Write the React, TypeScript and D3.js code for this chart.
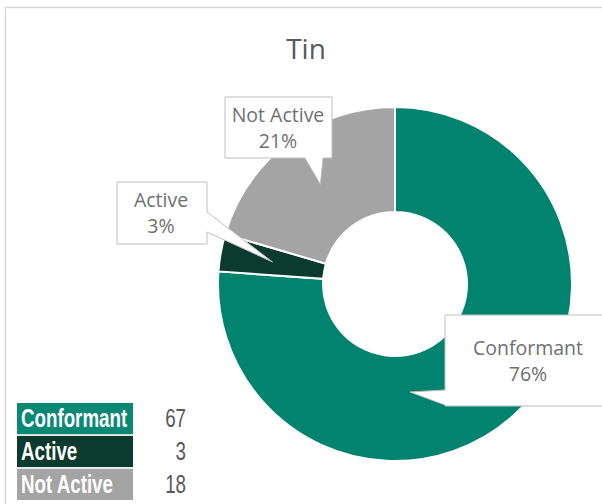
import React from 'react';
import * as d3 from 'd3';

// chart data
const title = 'Tin';
const categories = ['Conformant', 'Active', 'Not Active'];
const counts = [67, 3, 18];
const percentLabels = ['76%', '3%', '21%'];
const sliceColors = ['#02836f', '#0b3a2f', '#a4a4a4'];
const legendColors = ['#0a8873', '#0b3a2f', '#a4a4a4'];

const W = 602;
const H = 504;
const cx = 395;
const cy = 284;
const outerR = 177;
const innerR = 72;

// callout boxes: rect + which side the pointer comes out of
// tip null -> pointer goes to the slice centroid
const callouts = [
  { box: [445, 315, 162, 91], side: 'left', base: [390, 405], tip: [410, 392], tx: 528 },
  { box: [117, 182, 90, 62], side: 'right', base: [212, 232], tip: null, tx: 161 },
  { box: [225, 97, 107, 61], side: 'bottom', base: [305, 323], tip: null, tx: 278 },
];

function calloutPath(c, tip) {
  const [x, y, w, h] = c.box;
  const [b1, b2] = c.base;
  const [tx, ty] = tip;
  let pts;
  if (c.side === 'bottom') {
    pts = [[x, y], [x + w, y], [x + w, y + h], [b2, y + h], [tx, ty], [b1, y + h], [x, y + h]];
  } else if (c.side === 'right') {
    pts = [[x, y], [x + w, y], [x + w, b1], [tx, ty], [x + w, b2], [x + w, y + h], [x, y + h]];
  } else {
    pts = [[x, y], [x + w, y], [x + w, y + h], [x, y + h], [x, b2], [tx, ty], [x, b1]];
  }
  return 'M' + pts.map(p => p.join(',')).join('L') + 'Z';
}

const App = () => {
  const pie = d3.pie<number>().sort(null).value(d => d);
  const arcs = pie(counts);
  const arc = d3.arc<d3.PieArcDatum<number>>().innerRadius(innerR).outerRadius(outerR);

  const fontLabel = '"Open Sans", "Noto Sans", sans-serif';
  const fontLegend = '"Liberation Sans", Arial, sans-serif';
  const narrow = 0.75;

  const legendY = d3.scaleBand().domain(categories).range([403, 500]).paddingInner(0.05);

  return (
    <svg width={W} height={H} style={{ position: 'absolute', left: 0, top: 0, background: '#fff' }}>
      {/* chart frame */}
      <line x1={5} y1={7.5} x2={W} y2={7.5} stroke="#d9d9d9" strokeWidth={1.5} />
      <line x1={5.5} y1={7} x2={5.5} y2={H} stroke="#d9d9d9" strokeWidth={1.5} />

      <text x={306} y={59} textAnchor="middle" fontSize={28} fill="#595959" fontFamily={fontLabel}>
        {title}
      </text>

      <g transform={`translate(${cx},${cy})`}>
        {arcs.map((a, i) => (
          <path key={i} d={arc(a) || ''} fill={sliceColors[i]} stroke="#fff" strokeWidth={2} />
        ))}
      </g>

      {callouts.map((c, i) => {
        const cen = arc.centroid(arcs[i]);
        const tip = c.tip || [cx + cen[0], cy + cen[1]];
        const [, y, , h] = c.box;
        return (
          <g key={i}>
            <path d={calloutPath(c, tip)} fill="#fff" stroke="#bfbfbf" strokeWidth={1} />
            <text x={c.tx} y={y + h / 2 - 6} textAnchor="middle" fontSize={19.5} fill="#707070" fontFamily={fontLabel}>
              {categories[i]}
            </text>
            <text x={c.tx} y={y + h / 2 + 20} textAnchor="middle" fontSize={19.5} fill="#707070" fontFamily={fontLabel}>
              {percentLabels[i]}
            </text>
          </g>
        );
      })}

      {/* data table legend */}
      {categories.map((c, i) => {
        const y = legendY(c) || 0;
        const bh = legendY.bandwidth();
        return (
          <g key={c}>
            <rect x={17} y={y} width={116} height={bh} fill={legendColors[i]} />
            <text transform={`translate(21,${y + 24}) scale(${narrow},1)`} fontSize={25} fontWeight="bold" fill="#fff" fontFamily={fontLegend}>
              {c}
            </text>
            <text transform={`translate(186,${y + 24}) scale(${narrow},1)`} fontSize={25} textAnchor="end" fill="#595959" fontFamily={fontLegend}>
              {counts[i]}
            </text>
          </g>
        );
      })}
    </svg>
  );
};

export default App;
